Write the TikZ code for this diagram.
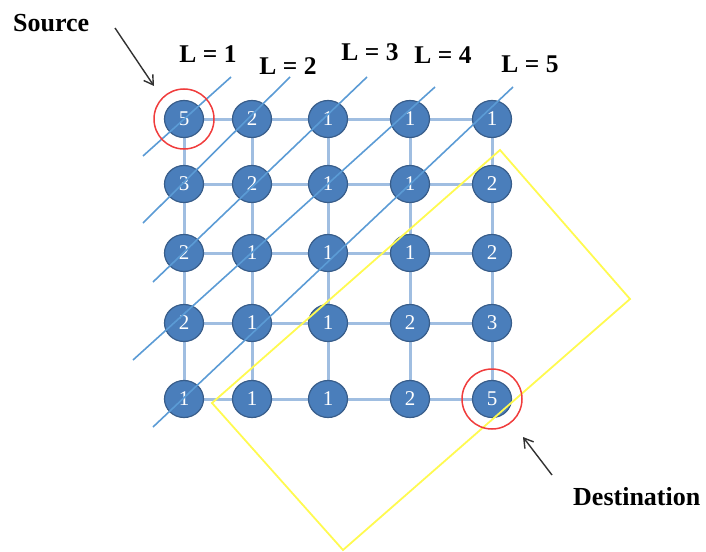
\documentclass[tikz,border=0pt]{standalone}
\usepackage{fontspec}
\setmainfont{Liberation Serif}
\usetikzlibrary{shapes.geometric,arrows.meta}
\definecolor{nodeblue}{RGB}{74,126,187}
\definecolor{nodeborder}{RGB}{56,93,138}
\definecolor{gridblue}{RGB}{160,190,225}
\definecolor{diagblue}{RGB}{91,155,213}
\definecolor{ringred}{RGB}{240,60,60}
\definecolor{boxyellow}{RGB}{255,250,80}
\definecolor{arrowgray}{RGB}{50,50,50}
\tikzset{
  nd/.style={ellipse, minimum width=39pt, minimum height=37pt, inner sep=0pt,
    fill=nodeblue, draw=nodeborder, line width=1.2pt, text=white,
    font=\fontsize{21}{21}\selectfont},
  gridline/.style={draw=gridblue, line width=3pt},
  diagline/.style={draw=diagblue, line width=1.6pt},
  ring/.style={circle, draw=ringred, line width=1.5pt, minimum size=60pt, inner sep=0pt},
  lab/.style={font=\fontsize{25.5}{25.5}\selectfont\bfseries, inner sep=0pt},
  biglab/.style={font=\fontsize{26}{26}\selectfont\bfseries, inner sep=0pt, anchor=base west},
  pointer/.style={draw=arrowgray, line width=1.4pt, -{Straight Barb[length=9pt,width=11pt]}},
  yellowbox/.style={draw=boxyellow, line width=1.8pt, line join=miter}
}
\begin{document}
\begin{tikzpicture}[x=1pt,y=-1pt]
\useasboundingbox (0,0) rectangle (706,551);
% nodes
\def\cols{{184,252,328,410,492}}
\def\rows{{119,184,253,323,399}}
\foreach \r/\vals in {1/{5,2,1,1,1},2/{3,2,1,1,2},3/{2,1,1,1,2},4/{2,1,1,2,3},5/{1,1,1,2,5}}{
  \foreach \v [count=\c] in \vals {
    \pgfmathsetmacro{\xx}{\cols[\c-1]}
    \pgfmathsetmacro{\yy}{\rows[\r-1]}
    \coordinate (p\r\c) at (\xx,\yy);
  }
}
% grid lines
\foreach \r in {1,...,5}{
  \foreach \c [evaluate=\c as \cn using int(\c+1)] in {1,...,4}{
    \draw[gridline] (p\r\c) -- (p\r\cn);
  }
}
\foreach \c in {1,...,5}{
  \foreach \r [evaluate=\r as \rn using int(\r+1)] in {1,...,4}{
    \draw[gridline] (p\r\c) -- (p\rn\c);
  }
}
\foreach \r/\vals in {1/{5,2,1,1,1},2/{3,2,1,1,2},3/{2,1,1,1,2},4/{2,1,1,2,3},5/{1,1,1,2,5}}{
  \foreach \v [count=\c] in \vals {
    \node[nd] (n\r\c) at (p\r\c) {\v};
  }
}
% diagonal level lines
\coordinate (a1) at (143,156); \coordinate (b1) at (231,77);
\coordinate (a2) at (143,223); \coordinate (b2) at (290,77);
\coordinate (a3) at (153,282); \coordinate (b3) at (367,77);
\coordinate (a4) at (133,360); \coordinate (b4) at (435,87);
\coordinate (a5) at (153,427); \coordinate (b5) at (513,87);
\foreach \i in {1,...,5}{ \draw[diagline] (a\i) -- (b\i); }
% yellow region
\coordinate (yt) at (500,150);
\coordinate (yr) at (630,299);
\coordinate (yb) at (343,550);
\coordinate (yl) at (212,403);
\draw[yellowbox] (yt) -- (yr) -- (yb) -- (yl) -- cycle;
% rings
\node[ring] (src) at (n11) {};
\node[ring] (dst) at (n55) {};
% labels
\node[lab] (L1) at (208,54) {L = 1};
\node[lab] (L2) at (288,66) {L = 2};
\node[lab] (L3) at (370,52) {L = 3};
\node[lab] (L4) at (443,55) {L = 4};
\node[lab] (L5) at (530,64) {L = 5};
\node[biglab] (srclab) at (13,32) {Source};
\node[biglab] (dstlab) at (573,505) {Destination};
\coordinate (sa) at (115,28); \coordinate (sb) at (154,86);
\coordinate (da) at (552,475); \coordinate (db) at (523,437);
\draw[pointer] (sa) -- (sb);
\draw[pointer] (da) -- (db);
\end{tikzpicture}
\end{document}
